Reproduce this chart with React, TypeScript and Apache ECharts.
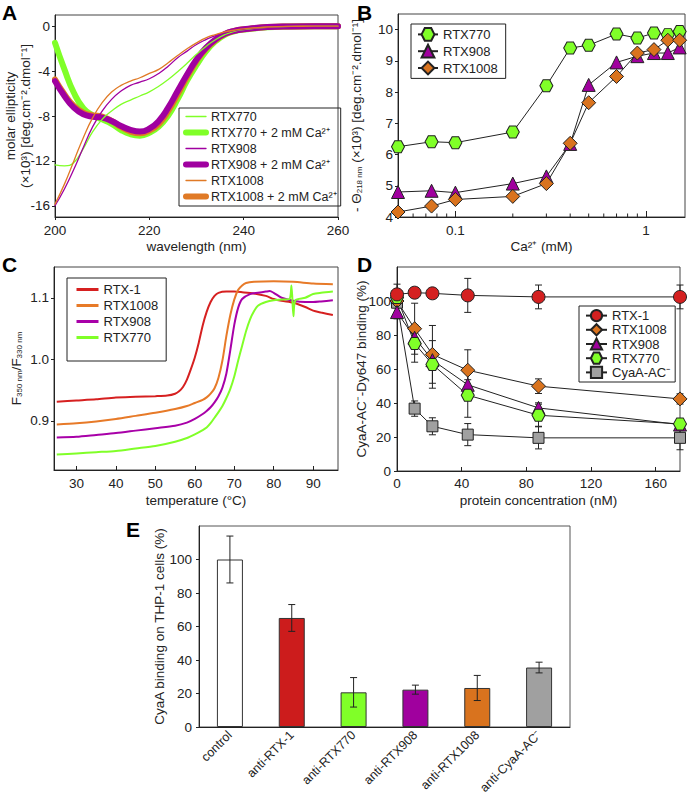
import React, { useEffect, useRef } from 'react';
import * as echarts from 'echarts';

const FONT = '"Liberation Sans", Arial, Helvetica, sans-serif';
const INK = '#222';

// ---------- Panel A: CD spectra ----------
const aWavelength = [200, 202, 204, 206, 208, 210, 212, 214, 216, 218, 220, 222, 224, 226, 228, 230, 232, 234, 236, 238, 240, 245, 250, 255, 260];
const aRtx770 = [-12.36, -12.44, -12.15, -10.9, -9.4, -8.3, -7.56, -6.96, -6.58, -6.22, -5.85, -5.35, -4.75, -4.05, -3.3, -2.5, -1.8, -1.2, -0.75, -0.45, -0.3, -0.09, -0.02, 0, 0];
const aRtx770Ca = [-1.48, -3.85, -5.93, -7.3, -7.95, -8.3, -8.7, -9.25, -9.62, -9.75, -9.5, -8.95, -7.95, -6.5, -4.85, -3.45, -2.25, -1.35, -0.76, -0.45, -0.3, -0.1, -0.03, 0, 0];
const aRtx908 = [-16, -14.5, -12.74, -10.8, -8.95, -7.56, -6.52, -5.78, -5.27, -4.98, -4.68, -4.21, -3.56, -2.81, -2.22, -1.63, -1.19, -0.83, -0.59, -0.39, -0.27, -0.09, -0.02, 0, 0];
const aRtx908Ca = [-4.89, -6.22, -7.26, -7.85, -8.06, -8.15, -8.44, -8.89, -9.24, -9.39, -9.13, -8.44, -7.26, -5.78, -4.3, -2.96, -1.93, -1.19, -0.68, -0.41, -0.27, -0.08, -0.02, 0, 0];
const aRtx1008 = [-15.85, -14.07, -12.0, -9.93, -8.15, -6.81, -5.87, -5.27, -4.89, -4.59, -4.21, -3.85, -3.26, -2.61, -2.01, -1.48, -1.04, -0.74, -0.5, -0.36, -0.24, -0.07, -0.01, 0, 0];
const aRtx1008Ca = [-4.74, -6.07, -7.1, -7.7, -7.94, -8.06, -8.44, -8.98, -9.39, -9.54, -9.3, -8.7, -7.55, -6.07, -4.5, -3.1, -2.0, -1.25, -0.7, -0.42, -0.28, -0.08, -0.02, 0, 0];
const aYTicks = [-16, -12, -8, -4, 0];

// ---------- Panel B: Ca2+ titration ----------
const bCalcium = [0.05, 0.075, 0.1, 0.2, 0.3, 0.4, 0.5, 0.7, 0.9, 1.1, 1.3, 1.5];
const bRtx770 = [6.25, 6.41, 6.38, 6.72, 8.2, 9.41, 9.5, 9.86, 9.73, 9.89, 9.84, 9.94];
const bRtx908 = [4.8, 4.84, 4.78, 5.07, 5.3, 6.34, 8.23, 8.95, 9.15, 9.25, 9.25, 9.43];
const bRtx1008 = [4.16, 4.35, 4.56, 4.66, 5.07, 6.36, 7.66, 8.5, 9.25, 9.36, 9.66, 9.66];
const bMinorTicks = [0.06, 0.07, 0.08, 0.09, 0.2, 0.3, 0.4, 0.5, 0.6, 0.7, 0.8, 0.9];

// ---------- Panel C: thermal unfolding ----------
const cRtx1 = [[25, 0.931], [30, 0.933], [35, 0.935], [40, 0.938], [45, 0.939], [50, 0.94], [53, 0.941], [55, 0.944], [56, 0.948], [57, 0.955], [58, 0.967], [59, 0.984], [60, 1.003], [61, 1.027], [62, 1.055], [63, 1.077], [64, 1.093], [65, 1.103], [66, 1.108], [68, 1.11], [70, 1.11], [72, 1.109], [75, 1.107], [78, 1.103], [80, 1.098], [82, 1.095], [85, 1.092], [88, 1.085], [90, 1.079], [92, 1.076], [95, 1.072]];
const cRtx1008 = [[25, 0.894], [30, 0.896], [35, 0.899], [40, 0.903], [45, 0.908], [50, 0.913], [55, 0.919], [58, 0.924], [60, 0.929], [62, 0.934], [63, 0.938], [64, 0.944], [65, 0.953], [66, 0.97], [67, 0.998], [68, 1.038], [69, 1.072], [70, 1.097], [71, 1.113], [72, 1.12], [73, 1.124], [75, 1.126], [80, 1.127], [85, 1.126], [90, 1.123], [95, 1.122]];
const cRtx908 = [[25, 0.873], [30, 0.874], [35, 0.877], [40, 0.88], [45, 0.884], [50, 0.888], [55, 0.892], [58, 0.897], [60, 0.903], [62, 0.911], [63, 0.916], [64, 0.922], [65, 0.93], [66, 0.94], [67, 0.954], [68, 0.977], [69, 1.015], [70, 1.056], [71, 1.084], [72, 1.098], [74, 1.106], [76, 1.108], [78, 1.11], [79, 1.111], [80, 1.108], [82, 1.1], [85, 1.095], [88, 1.093], [90, 1.093], [92, 1.094], [95, 1.096]];
const cRtx770 = [[25, 0.845], [30, 0.847], [35, 0.849], [40, 0.851], [45, 0.855], [50, 0.859], [55, 0.866], [58, 0.872], [60, 0.878], [62, 0.885], [63, 0.889], [64, 0.896], [65, 0.905], [66, 0.914], [67, 0.924], [68, 0.937], [69, 0.952], [70, 0.972], [71, 0.998], [72, 1.022], [73, 1.046], [74, 1.065], [75, 1.078], [76, 1.087], [78, 1.093], [80, 1.096], [82, 1.097], [84, 1.098], [84.5, 1.12], [85, 1.07], [85.5, 1.096], [88, 1.1], [90, 1.106], [92, 1.108], [95, 1.11]];
const cXTicks = [30, 40, 50, 60, 70, 80, 90];
const cYTicks = [0.9, 1.0, 1.1];

// ---------- Panel D: competition binding ----------
const dConc = [0, 10.9, 21.9, 43.75, 87.5, 175];
const dRtx1 = [103.9, 104.9, 104.5, 103.3, 102.4, 102.4];
const dRtx1Err = [6, 3, 3, 10, 7, 7];
const dRtx1008 = [100, 83.7, 68.6, 59.3, 49.9, 42.4];
const dRtx1008Err = [3, 15, 17, 12, 4.3, 3];
const dRtx908 = [93.5, 78.4, 65.2, 50.7, 37.1, 27.3];
const dRtx908Err = [4, 3, 3, 3, 3, 2];
const dRtx770 = [102, 75, 62.7, 44.6, 32.8, 27.7];
const dRtx770Err = [3, 11, 14, 13, 6.5, 3];
const dCyaA = [99, 36.7, 26.3, 21.4, 19.5, 19.5];
const dCyaAErr = [3, 4.5, 5, 6.5, 6.5, 7];

// ---------- Panel E: antibody blocking ----------
const eCategories = ['control', 'anti-RTX-1', 'anti-RTX770', 'anti-RTX908', 'anti-RTX1008', 'anti-CyaA-AC⁻'];
const eValues = [100, 65.1, 20.7, 22.3, 23.3, 35.5];
const eErrors = [14, 8, 8.8, 2.7, 7.5, 3.2];
const ePalette = ['#ffffff', '#cc1c1c', '#80ff28', '#a0009e', '#d9731e', '#a0a0a0'];

const GREEN = '#80ff28';
const PURPLE = '#a0009e';
const ORANGE = '#d9731e';
const RED = '#d42020';
const GRAY = '#a0a0a0';
const HEX = 'path://M0,0.866L0.5,0L1.5,0L2,0.866L1.5,1.732L0.5,1.732Z';

const zip = (xs: number[], ys: number[]) => xs.map((x, i) => [x, ys[i]]);
const stripName = (n: string) => n.slice(n.indexOf('|') + 1);

const nameStyle = { color: INK, fontSize: 13.5, fontFamily: FONT };

function axis(gridIndex: number, o: any) {
  return {
    gridIndex,
    nameLocation: 'middle',
    nameMoveOverlap: false,
    splitLine: { show: false },
    ...o,
    nameTextStyle: { ...nameStyle, ...(o.nameTextStyle || {}) },
    axisLine: { show: true, onZero: false, lineStyle: { color: INK, width: 1 } },
    axisLabel: { color: INK, fontSize: 13.5, fontFamily: FONT, margin: 5, ...(o.axisLabel || {}) },
    axisTick: { show: true, length: 4, lineStyle: { color: INK, width: 1 }, ...(o.axisTick || {}) },
  };
}

function errorRender(hw: number) {
  return (params: any, api: any) => {
    const x = api.value(0);
    const y = api.value(1);
    const e = api.value(2);
    const p1 = api.coord([x, y + e]);
    const p2 = api.coord([x, y - e]);
    const st = { stroke: INK, lineWidth: 1 };
    return {
      type: 'group',
      children: [
        { type: 'line', shape: { x1: p1[0], y1: p1[1], x2: p2[0], y2: p2[1] }, style: st },
        { type: 'line', shape: { x1: p1[0] - hw, y1: p1[1], x2: p1[0] + hw, y2: p1[1] }, style: st },
        { type: 'line', shape: { x1: p2[0] - hw, y1: p2[1], x2: p2[0] + hw, y2: p2[1] }, style: st },
      ],
    };
  };
}

function cdLine(name: string, data: number[], color: string, width: number) {
  return {
    type: 'line', name: 'A|' + name, xAxisIndex: 0, yAxisIndex: 0,
    data: zip(aWavelength, data), symbol: 'none', smooth: true,
    lineStyle: { color, width, cap: 'round' }, itemStyle: { color },
  };
}

function cLine(name: string, data: number[][], color: string) {
  return {
    type: 'line', name: 'C|' + name, xAxisIndex: 2, yAxisIndex: 2,
    data, symbol: 'none', smooth: 0.25,
    lineStyle: { color, width: 2 }, itemStyle: { color },
  };
}

function markerLine(prefix: string, idx: number, name: string, xs: number[], ys: number[], symbol: string, size: any, color: string) {
  return {
    type: 'line', name: prefix + '|' + name, xAxisIndex: idx, yAxisIndex: idx,
    data: zip(xs, ys), symbol, symbolSize: size, showSymbol: true,
    lineStyle: { color: INK, width: 1 },
    itemStyle: { color, borderColor: INK, borderWidth: 1, opacity: 1 },
    z: 3,
  };
}

function buildOption() {
  const dErrData: number[][] = [];
  const sets = [[dRtx1, dRtx1Err], [dRtx1008, dRtx1008Err], [dRtx908, dRtx908Err], [dRtx770, dRtx770Err], [dCyaA, dCyaAErr]];
  sets.forEach(([v, e]) => dConc.forEach((x, i) => dErrData.push([x, v[i], e[i]])));

  const legendBase = {
    orient: 'vertical', selectedMode: false, borderColor: INK, borderWidth: 1,
    textStyle: { color: INK, fontSize: 13, fontFamily: FONT },
    formatter: stripName,
  };

  return {
    animation: false,
    backgroundColor: '#fff',
    textStyle: { fontFamily: FONT },
    grid: [
      { left: 55, top: 15, width: 283, height: 202, show: true, borderColor: '#444', borderWidth: 1, outerBoundsMode: 'none' },
      { left: 398, top: 14, width: 287, height: 203, show: true, borderColor: '#444', borderWidth: 1, outerBoundsMode: 'none' },
      { left: 54, top: 267, width: 284, height: 203, show: true, borderColor: '#444', borderWidth: 1, outerBoundsMode: 'none' },
      { left: 397, top: 267, width: 283, height: 204, show: true, borderColor: '#444', borderWidth: 1, outerBoundsMode: 'none' },
      { left: 199, top: 526, width: 371, height: 201, show: true, borderColor: '#555', borderWidth: 1, outerBoundsMode: 'none' },
    ],
    xAxis: [
      axis(0, { type: 'value', min: 200, max: 260, interval: 20, name: 'wavelength (nm)', nameGap: 22,
        axisLabel: { margin: 6 }, axisTick: { length: 3 } }),
      axis(1, { type: 'log', logBase: 10, min: 0.05, max: 1.6, name: 'Ca²⁺ (mM)', nameGap: 22,
        axisLabel: { margin: 6, showMinLabel: false, showMaxLabel: false }, axisTick: { inside: true, length: 6 } }),
      axis(2, { type: 'value', min: 24.3, max: 96.3, name: 'temperature (°C)', nameGap: 23,
        axisLabel: { margin: 6, customValues: cXTicks }, axisTick: { inside: true, length: 4, customValues: cXTicks } }),
      axis(3, { type: 'value', min: 0, max: 175, interval: 40, name: 'protein concentration (nM)', nameGap: 22,
        axisLabel: { margin: 5, showMaxLabel: false }, axisTick: { inside: true, length: 4 } }),
      axis(4, { type: 'category', data: eCategories,
        axisLabel: { rotate: 45, interval: 0, margin: 6, fontSize: 12.5 }, axisTick: { show: false } }),
    ],
    yAxis: [
      axis(0, { type: 'value', min: -17, max: 1, name: 'molar ellipticity\n(×10³) [deg.cm⁻².dmol⁻¹]', nameGap: 22,
        nameTextStyle: { lineHeight: 15 },
        axisLabel: { customValues: aYTicks }, axisTick: { length: 3, customValues: aYTicks } }),
      axis(1, { type: 'value', min: 4, max: 10.5, interval: 1, name: '- Θ{s|218 nm} (×10³) [deg.cm⁻².dmol⁻¹]', nameGap: 35,
        nameTextStyle: { rich: { s: { fontSize: 8, fontFamily: FONT, color: INK, verticalAlign: 'bottom' } } },
        axisLabel: { showMaxLabel: false }, axisTick: { length: 3 } }),
      axis(2, { type: 'value', min: 0.82, max: 1.15, name: 'F{s|350 nm}/F{s|330 nm}', nameGap: 31,
        nameTextStyle: { rich: { s: { fontSize: 8, fontFamily: FONT, color: INK, verticalAlign: 'bottom' } } },
        axisLabel: { customValues: cYTicks, formatter: (v: number) => v.toFixed(1) }, axisTick: { length: 3, customValues: cYTicks } }),
      axis(3, { type: 'value', min: 0, max: 120, interval: 20, name: 'CyaA-AC⁻-Dy647 binding (%)', nameGap: 29,
        axisLabel: { margin: 6, showMaxLabel: false }, axisTick: { length: 3 } }),
      axis(4, { type: 'value', min: 0, max: 120, interval: 20, name: 'CyaA binding on THP-1 cells (%)', nameGap: 33,
        axisLabel: { margin: 7, showMaxLabel: false }, axisTick: { length: 3 } }),
    ],
    legend: [
      { ...legendBase, left: 179, top: 108, padding: [2, 4, 3, 4], itemGap: 3, itemWidth: 20, itemHeight: 14,
        textStyle: { color: INK, fontSize: 12.5, fontFamily: FONT },
        itemStyle: { opacity: 0 }, lineStyle: { width: 'inherit' },
        data: ['A|RTX770', 'A|RTX770 + 2 mM Ca²⁺', 'A|RTX908', 'A|RTX908 + 2 mM Ca²⁺', 'A|RTX1008', 'A|RTX1008 + 2 mM Ca²⁺'] },
      { ...legendBase, left: 411, top: 24, padding: [3, 8, 3, 6], itemGap: 2, itemWidth: 20, itemHeight: 16,
        data: ['B|RTX770', 'B|RTX908', 'B|RTX1008'] },
      { ...legendBase, left: 67, top: 278, padding: [5, 8, 17, 8], itemGap: 3, itemWidth: 22, itemHeight: 14,
        itemStyle: { opacity: 0 }, lineStyle: { width: 3 },
        data: ['C|RTX-1', 'C|RTX1008', 'C|RTX908', 'C|RTX770'] },
      { ...legendBase, left: 579, top: 306, padding: [3, 5, 3, 6], itemGap: 1, itemWidth: 21, itemHeight: 14,
        data: ['D|RTX-1', 'D|RTX1008', 'D|RTX908', 'D|RTX770', 'D|CyaA-AC⁻'] },
    ],
    graphic: [
      { type: 'text', left: 2, top: 2, style: { text: 'A', fontSize: 21, fontWeight: 'bold', fontFamily: FONT, fill: '#000' } },
      { type: 'text', left: 357, top: 2, style: { text: 'B', fontSize: 21, fontWeight: 'bold', fontFamily: FONT, fill: '#000' } },
      { type: 'text', left: 2, top: 254, style: { text: 'C', fontSize: 21, fontWeight: 'bold', fontFamily: FONT, fill: '#000' } },
      { type: 'text', left: 357, top: 254, style: { text: 'D', fontSize: 21, fontWeight: 'bold', fontFamily: FONT, fill: '#000' } },
      { type: 'text', left: 126, top: 519, style: { text: 'E', fontSize: 21, fontWeight: 'bold', fontFamily: FONT, fill: '#000' } },
    ],
    series: [
      // A
      cdLine('RTX770 + 2 mM Ca²⁺', aRtx770Ca, GREEN, 6),
      cdLine('RTX1008 + 2 mM Ca²⁺', aRtx1008Ca, '#e07a26', 6),
      cdLine('RTX908 + 2 mM Ca²⁺', aRtx908Ca, '#a000a0', 6),
      cdLine('RTX770', aRtx770, GREEN, 1.3),
      cdLine('RTX908', aRtx908, '#a000a0', 1.3),
      cdLine('RTX1008', aRtx1008, '#e07a26', 1.3),
      // B
      {
        type: 'custom', xAxisIndex: 1, yAxisIndex: 1, data: bMinorTicks.map((v) => [v, 4]), z: 1, silent: true,
        renderItem: (params: any, api: any) => {
          const p = api.coord([api.value(0), api.value(1)]);
          return { type: 'line', shape: { x1: p[0], y1: p[1], x2: p[0], y2: p[1] - 3.5 }, style: { stroke: INK, lineWidth: 1 } };
        },
      },
      markerLine('B', 1, 'RTX770', bCalcium, bRtx770, HEX, [13, 12], GREEN),
      markerLine('B', 1, 'RTX908', bCalcium, bRtx908, 'triangle', 13, PURPLE),
      markerLine('B', 1, 'RTX1008', bCalcium, bRtx1008, 'diamond', 14, ORANGE),
      // C
      cLine('RTX-1', cRtx1, '#d62020'),
      cLine('RTX1008', cRtx1008, '#e77a28'),
      cLine('RTX908', cRtx908, '#a800a8'),
      cLine('RTX770', cRtx770, GREEN),
      // D
      {
        type: 'custom', xAxisIndex: 3, yAxisIndex: 3, data: dErrData, z: 1, silent: true, clip: false,
        encode: { x: 0, y: 1 }, renderItem: errorRender(3.5),
      },
      markerLine('D', 3, 'CyaA-AC⁻', dConc, dCyaA, 'rect', 11, GRAY),
      markerLine('D', 3, 'RTX1008', dConc, dRtx1008, 'diamond', 14, ORANGE),
      markerLine('D', 3, 'RTX908', dConc, dRtx908, 'triangle', 13, PURPLE),
      markerLine('D', 3, 'RTX770', dConc, dRtx770, HEX, [13, 12], GREEN),
      markerLine('D', 3, 'RTX-1', dConc, dRtx1, 'circle', 13, RED),
      // E
      {
        type: 'bar', name: 'E|binding', xAxisIndex: 4, yAxisIndex: 4, barWidth: 26,
        data: eValues.map((v, i) => ({ value: v, itemStyle: { color: ePalette[i] } })),
        itemStyle: { borderColor: '#333', borderWidth: 1 },
      },
      {
        type: 'custom', xAxisIndex: 4, yAxisIndex: 4, z: 5, silent: true,
        data: eCategories.map((c, i) => [c, eValues[i], eErrors[i]]),
        encode: { x: 0, y: 1 }, renderItem: errorRender(3.5),
      },
    ],
  };
}

export default function App() {
  const ref = useRef<HTMLDivElement>(null);
  useEffect(() => {
    if (!ref.current) return;
    const chart = echarts.init(ref.current, undefined, { renderer: 'svg', width: 688, height: 795 });
    chart.setOption(buildOption() as any);
    return () => chart.dispose();
  }, []);
  return <div ref={ref} style={{ position: 'absolute', left: 0, top: 0, width: 688, height: 795, background: '#fff' }} />;
}
